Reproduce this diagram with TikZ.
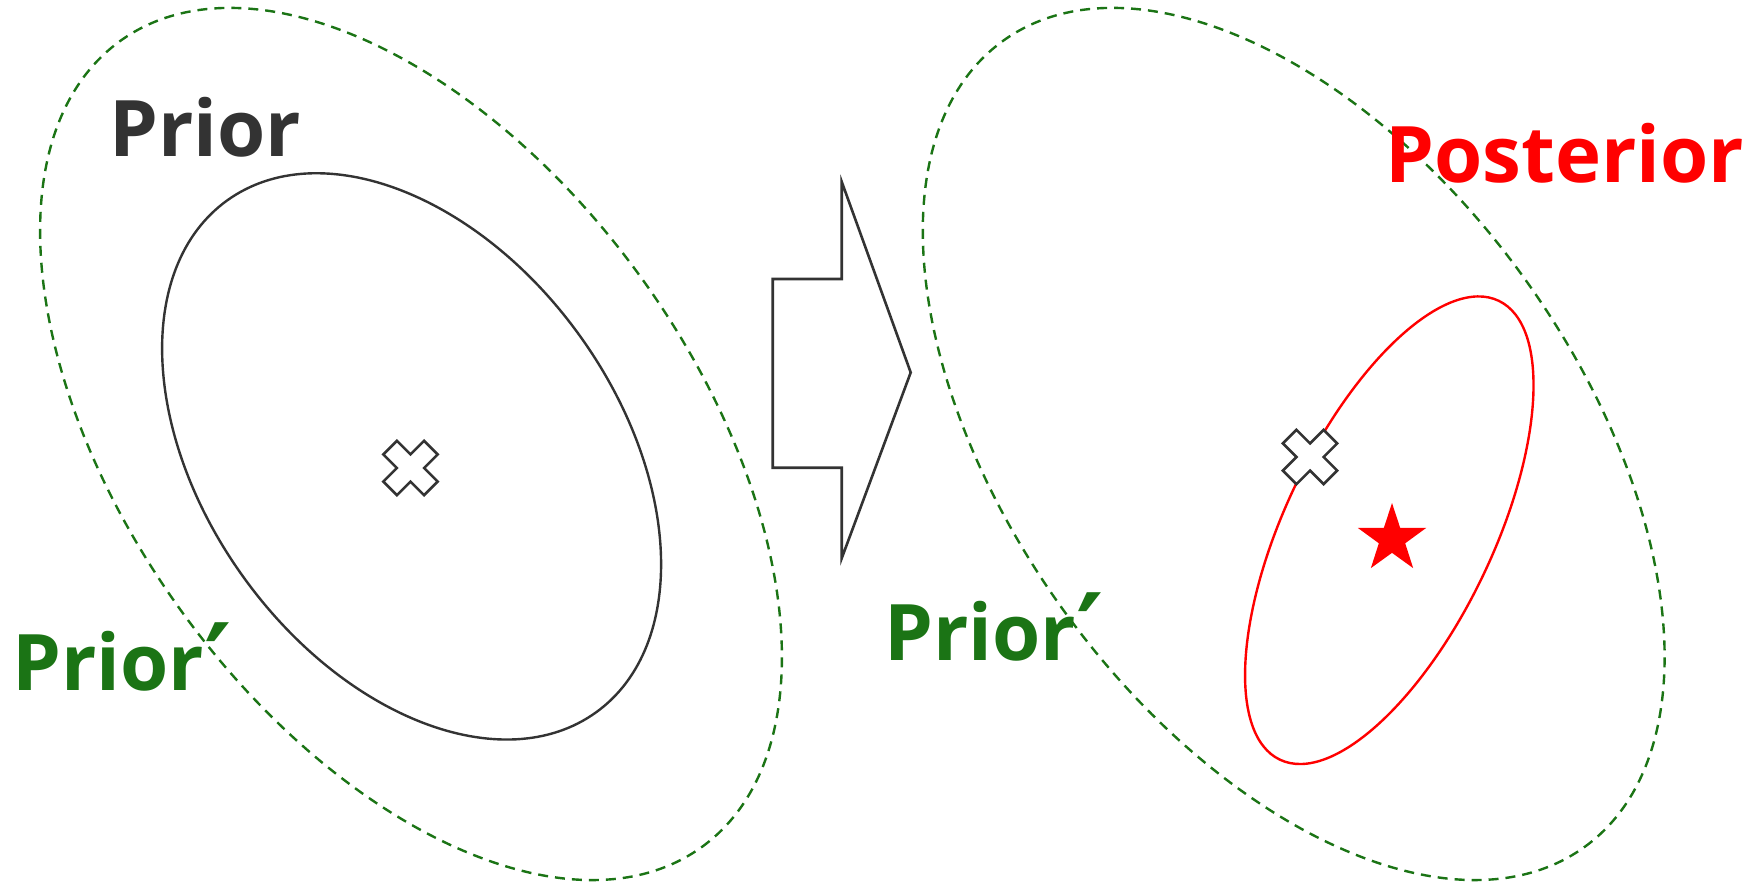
\documentclass[tikz,border=0pt]{standalone}
\usepackage{fontspec}
\setmainfont{Open Sans}
\newfontfamily\primefont{DejaVu Sans}
\usetikzlibrary{shapes.geometric}
\definecolor{dgray}{HTML}{333333}
\definecolor{pgreen}{HTML}{1B7415}
\definecolor{pred}{HTML}{FF0000}
\tikzset{
  priorbig/.style={draw=pgreen, line width=1.2pt, dash pattern=on 5pt off 3.5pt},
  priorln/.style={draw=dgray, line width=1.2pt},
  postln/.style={draw=pred, line width=1.2pt},
  lbl/.style={font=\fontsize{39}{47}\selectfont\bfseries, inner sep=0pt, anchor=base west},
  crossmark/.style={draw=dgray, line width=1.3pt, fill=white, line join=miter},
  arrowshape/.style={draw=dgray, line width=1.3pt, line join=miter}
}
\newcommand{\xmark}[1]{%
  \path[crossmark, shift={(#1)}] (-13.6,27.2) -- (0,13.6) -- (13.6,27.2) -- (27.2,13.6) -- (13.6,0) -- (27.2,-13.6) -- (13.6,-27.2) -- (0,-13.6) -- (-13.6,-27.2) -- (-27.2,-13.6) -- (-13.6,0) -- (-27.2,13.6) -- cycle;}
\newcommand{\prm}{{\primefont\bfseries\fontsize{52}{52}\selectfont\raisebox{-4pt}{′}}}
\begin{document}
\begin{tikzpicture}[x=0.5pt,y=0.5pt]
\useasboundingbox (0,0) rectangle (1754,-882);
% centres
\coordinate (lc) at (411,-444);
\coordinate (pc) at (411.6,-456.4);
\coordinate (rc) at (1293.7,-444);
\coordinate (qc) at (1389.3,-530.2);
\coordinate (lx) at (410.5,-468);
\coordinate (rx) at (1310,-457);
% left side
\path[priorbig, rotate around={-54.2:(lc)}] (lc) ellipse [x radius=248.5pt, y radius=142pt];
\path[priorln, rotate around={-54.2:(pc)}] (pc) ellipse [x radius=157.75pt, y radius=103.5pt];
\xmark{lx}
% right side
\path[priorbig, rotate around={-54.2:(rc)}] (rc) ellipse [x radius=248.5pt, y radius=142pt];
\path[postln, rotate around={64.5:(qc)}] (qc) ellipse [x radius=127.1pt, y radius=52.05pt];
\xmark{rx}
\node[star, star points=5, star point ratio=2.6, minimum size=36pt, inner sep=0pt, fill=pred] (star) at (1392,-539) {};
% block arrow
\coordinate (a1) at (841.7,-181.7);
\coordinate (a2) at (910.7,-372.5);
\coordinate (a3) at (841.7,-558.3);
\path[arrowshape] (a1) -- (a2) -- (a3) -- (841.7,-467.7) -- (772.7,-467.7) -- (772.7,-279) -- (841.7,-279) -- cycle;
% labels
\node[lbl, text=dgray] (prior) at (109,-157) {Prior};
\node[lbl, text=pgreen] (priorpl) at (12,-690) {Prior\prm};
\node[lbl, text=pgreen] (priorpr) at (884,-660) {Prior\prm};
\node[lbl, text=pred] (post) at (1385,-183) {Posterior};
\end{tikzpicture}
\end{document}
